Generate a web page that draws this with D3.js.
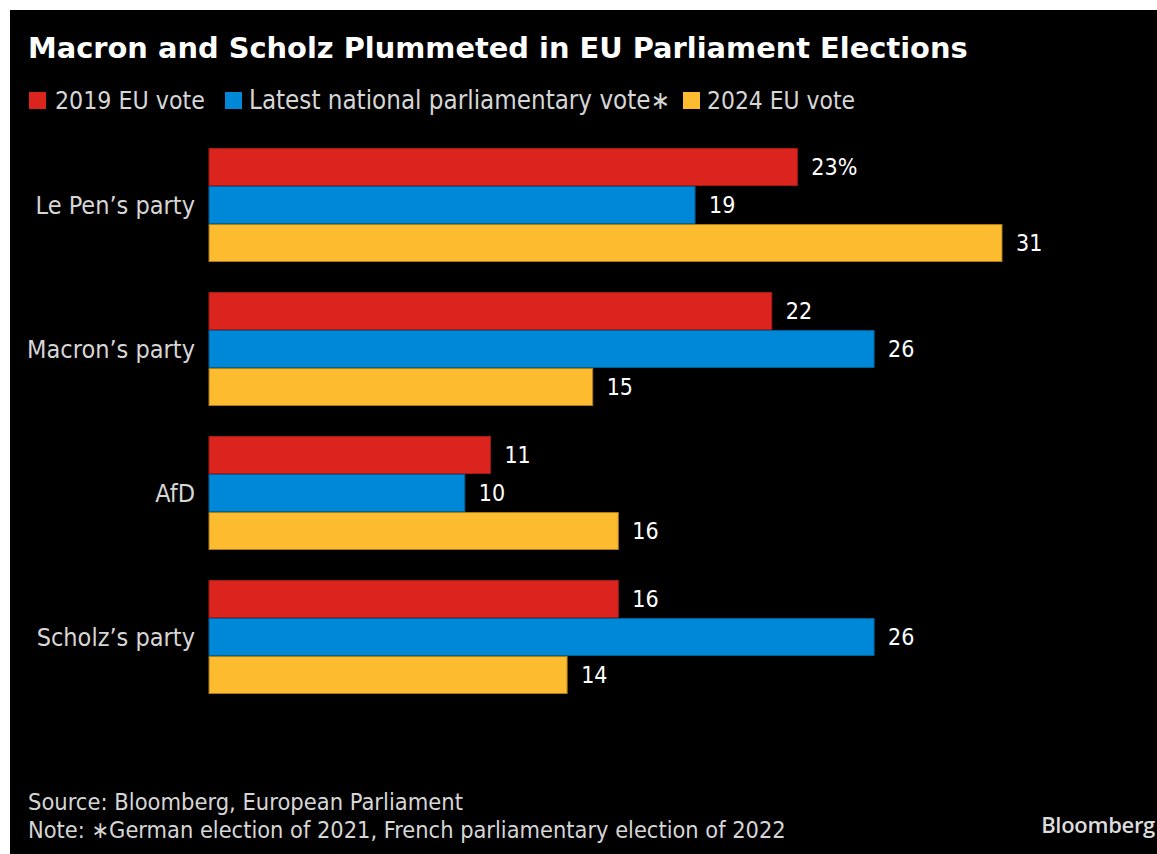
<!DOCTYPE html>
<html>
<head>
<meta charset="utf-8">
<script src="https://cdn.jsdelivr.net/npm/d3@7"></script>
<style>
  html, body { margin: 0; padding: 0; background: #ffffff; }
  svg { display: block; }
</style>
</head>
<body>
<svg id="chart" width="1157" height="854"></svg>
<script>
// Party vote shares (%)
const categories = ["Le Pen\u2019s party", "Macron\u2019s party", "AfD", "Scholz\u2019s party"];
const seriesNames = ["2019 EU vote", "Latest national parliamentary vote\u2217", "2024 EU vote"];
const vote2019 = [23, 22, 11, 16];
const voteNational = [19, 26, 10, 26];
const vote2024 = [31, 15, 16, 14];
const seriesValues = [vote2019, voteNational, vote2024];
const colors = ["#dc241f", "#0088d8", "#fdbb30"];
const strokes = ["#a51a16", "#00609a", "#a87a1a"];

const title = "Macron and Scholz Plummeted in EU Parliament Elections";
const sourceText = "Source: Bloomberg, European Parliament";
const noteText = "Note: \u2217German election of 2021, French parliamentary election of 2022";

const bodyFont = "'DejaVu Sans Condensed', 'DejaVu Sans', sans-serif";

const svg = d3.select("#chart");

// black card
svg.append("rect").attr("x", 10).attr("y", 10).attr("width", 1147).attr("height", 844).attr("fill", "#000");

// fit a text element to a target width by adjusting its font size
function fit(sel, target) {
  const node = sel.node();
  const w = node.getComputedTextLength();
  const fs = parseFloat(sel.attr("font-size"));
  const size = fs * target / w;
  sel.attr("font-size", size.toFixed(2));
  return size;
}

// title
fit(svg.append("text")
  .attr("x", 28).attr("y", 58)
  .attr("fill", "#ffffff")
  .attr("font-family", "'DejaVu Sans', sans-serif")
  .attr("font-weight", "bold")
  .attr("font-size", 27)
  .text(title), 940);

// legend
const legendPos = [{sq: 29, tx: 55, w: 150}, {sq: 225, tx: 249, w: 421}, {sq: 683, tx: 707, w: 148}];
seriesNames.forEach((name, i) => {
  svg.append("rect")
    .attr("x", legendPos[i].sq).attr("y", 92).attr("width", 17).attr("height", 17)
    .attr("fill", colors[i]);
  fit(svg.append("text")
    .attr("x", legendPos[i].tx).attr("y", 109)
    .attr("fill", "#d6d6d6")
    .attr("font-family", bodyFont)
    .attr("font-size", 22)
    .text(name), legendPos[i].w);
});

// scales
const x = d3.scaleLinear()
  .domain([0, d3.max(seriesValues.flat())])
  .range([209, 1002]);

const y0 = d3.scaleBand()
  .domain(categories)
  .range([148, 694])
  .paddingInner(30 / 144)
  .paddingOuter(0);

const y1 = d3.scaleBand()
  .domain(d3.range(seriesNames.length))
  .range([0, y0.bandwidth()])
  .padding(0);

// size the category labels so the longest one spans its column
const probe = svg.append("text")
  .attr("font-family", bodyFont)
  .attr("font-size", 22)
  .text(categories[1]);
const catSize = fit(probe, 168);
probe.remove();

const groups = svg.append("g").selectAll("g")
  .data(categories)
  .join("g")
  .attr("transform", d => `translate(0,${y0(d)})`);

// category labels
groups.append("text")
  .attr("x", 195)
  .attr("y", y0.bandwidth() / 2)
  .attr("dy", "0.36em")
  .attr("text-anchor", "end")
  .attr("fill", "#d6d6d6")
  .attr("font-family", bodyFont)
  .attr("font-size", catSize.toFixed(2))
  .text(d => d);

// bars and value labels
groups.each(function(cat, ci) {
  const g = d3.select(this);
  seriesValues.forEach((vals, si) => {
    const v = vals[ci];
    g.append("rect")
      .attr("x", x(0))
      .attr("y", y1(si) + 0.5)
      .attr("width", x(v) - x(0))
      .attr("height", y1.bandwidth() - 1)
      .attr("fill", colors[si])
      .attr("stroke", strokes[si])
      .attr("stroke-width", 1);
    g.append("text")
      .attr("x", x(v) + 14)
      .attr("y", y1(si) + y1.bandwidth() / 2)
      .attr("dy", "0.36em")
      .attr("fill", "#ffffff")
      .attr("font-family", bodyFont)
      .attr("font-size", 23)
      .text(ci === 0 && si === 0 ? v + "%" : v);
  });
});

// footer
fit(svg.append("text")
  .attr("x", 28).attr("y", 810)
  .attr("fill", "#d6d6d6")
  .attr("font-family", bodyFont)
  .attr("font-size", 20)
  .text(sourceText), 435);
fit(svg.append("text")
  .attr("x", 28).attr("y", 838)
  .attr("fill", "#d6d6d6")
  .attr("font-family", bodyFont)
  .attr("font-size", 20)
  .text(noteText), 758);

svg.append("text")
  .attr("x", 1155).attr("y", 833)
  .attr("text-anchor", "end")
  .attr("fill", "#dcdcdc")
  .attr("font-family", "'Open Sans', sans-serif")
  .attr("font-weight", 600)
  .attr("font-size", 22)
  .attr("letter-spacing", -0.3)
  .text("Bloomberg");
</script>
</body>
</html>
